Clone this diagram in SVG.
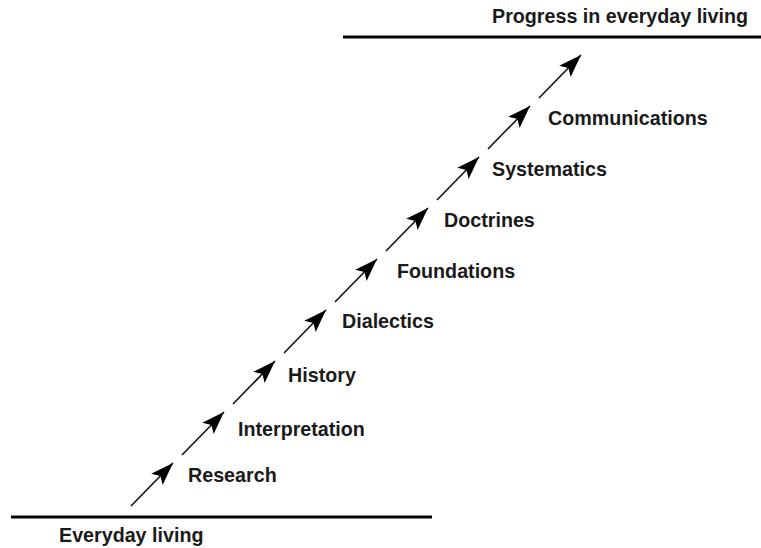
<svg xmlns="http://www.w3.org/2000/svg" width="761" height="548" viewBox="0 0 761 548">
<style>
text{font-family:"Liberation Sans",Arial,sans-serif;font-weight:bold;font-size:19.7px;fill:#1a1a1a}
.base{stroke:#000;stroke-width:3.2;fill:none}
.arr{stroke:#111;stroke-width:1.6;fill:none;marker-end:url(#ah)}
</style>
<defs>
<marker id="ah" markerUnits="userSpaceOnUse" markerWidth="26" markerHeight="20" viewBox="0 0 26 20" refX="23" refY="10" orient="auto">
<path d="M0,2 L23,10 L0,18 L5,10 Z" fill="#000"/>
</marker>
</defs>
<rect width="761" height="548" fill="#fff"/>
<g id="base-lines">
<line class="base" x1="11" y1="517" x2="432" y2="517"/>
<line class="base" x1="343" y1="37" x2="761" y2="37"/>
</g>
<g id="connectors">
<line class="arr" x1="131" y1="506" x2="173" y2="463"/>
<line class="arr" x1="182" y1="455" x2="224" y2="412"/>
<line class="arr" x1="233" y1="404" x2="275" y2="361"/>
<line class="arr" x1="284" y1="353" x2="326" y2="310"/>
<line class="arr" x1="335" y1="302" x2="377" y2="259"/>
<line class="arr" x1="386" y1="251" x2="428" y2="208"/>
<line class="arr" x1="437" y1="200" x2="479" y2="157"/>
<line class="arr" x1="488" y1="149" x2="530" y2="106"/>
<line class="arr" x1="539" y1="98" x2="581" y2="55"/>
</g>
<g id="everyday-living"><text x="59" y="542">Everyday living</text></g>
<g id="progress"><text x="492" y="23">Progress in everyday living</text></g>
<g id="research"><text x="188" y="482">Research</text></g>
<g id="interpretation"><text x="238" y="436">Interpretation</text></g>
<g id="history"><text x="288" y="382">History</text></g>
<g id="dialectics"><text x="342" y="328">Dialectics</text></g>
<g id="foundations"><text x="397" y="278">Foundations</text></g>
<g id="doctrines"><text x="444" y="227">Doctrines</text></g>
<g id="systematics"><text x="492" y="176">Systematics</text></g>
<g id="communications"><text x="548" y="125">Communications</text></g>
</svg>
